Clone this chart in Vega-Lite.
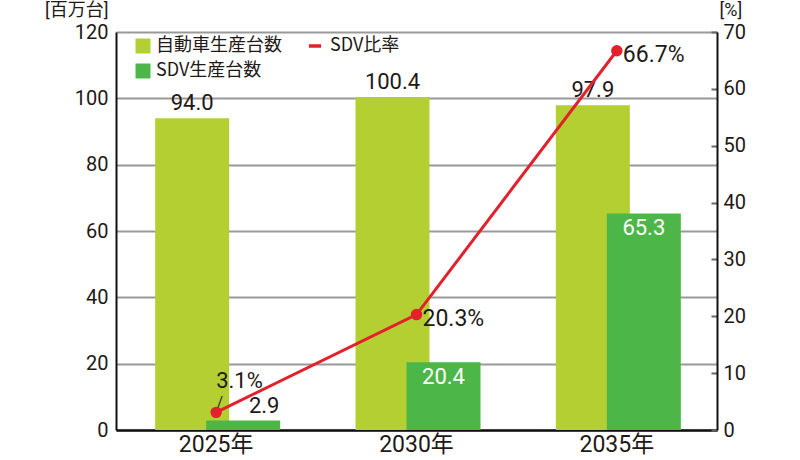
{
  "$schema": "https://vega.github.io/schema/vega-lite/v6.json",
  "width": 601,
  "height": 398,
  "autosize": {"type": "none"},
  "padding": {"left": 116, "top": 32, "right": 83, "bottom": 30},
  "background": "white",
  "config": {
    "font": "Roboto, Noto Sans CJK JP",
    "view": {"stroke": null},
    "text": {"font": "Roboto, Noto Sans CJK JP", "color": "#231815"}
  },
  "data": {
    "values": [
      {"year": "2025年", "total": 94.0, "sdv": 2.9, "ratio": 3.1, "ratio_label": "3.1%"},
      {"year": "2030年", "total": 100.4, "sdv": 20.4, "ratio": 20.3, "ratio_label": "20.3%"},
      {"year": "2035年", "total": 97.9, "sdv": 65.3, "ratio": 66.7, "ratio_label": "66.7%"}
    ]
  },
  "encoding": {
    "x": {
      "field": "year",
      "type": "nominal",
      "sort": null,
      "scale": {"paddingInner": 0, "paddingOuter": 0},
      "axis": {
        "title": null,
        "labelAngle": 0,
        "labelFontSize": 23,
        "labelColor": "#231815",
        "labelPadding": 3,
        "ticks": false,
        "domainColor": "#111",
        "domainWidth": 2.5
      }
    }
  },
  "layer": [
    {
      "encoding": {
        "y": {
          "type": "quantitative",
          "scale": {"domain": [0, 120]},
          "axis": {
            "orient": "left",
            "values": [0, 20, 40, 60, 80, 100, 120],
            "grid": true,
            "gridColor": "#999",
            "gridWidth": 2,
            "ticks": false,
            "labelPadding": 8,
            "labelFontSize": 20,
            "labelColor": "#231815",
            "domainColor": "#111",
            "domainWidth": 2,
            "title": "[百万台]",
            "titleAngle": 0,
            "titleAlign": "right",
            "titleBaseline": "middle",
            "titleX": -8,
            "titleY": -22,
            "titleFontSize": 18,
            "titleFontWeight": "normal",
            "titleColor": "#231815"
          }
        }
      },
      "layer": [
        {
          "mark": {"type": "bar", "width": 74, "xOffset": -24},
          "encoding": {
            "y": {"field": "total"},
            "fill": {
              "datum": "自動車生産台数",
              "type": "nominal",
              "scale": {"domain": ["自動車生産台数", "SDV生産台数"], "range": ["#b3cf32", "#4cb748"]},
              "legend": {
                "title": null,
                "orient": "none",
                "legendX": 18,
                "legendY": 5,
                "symbolType": "square",
                "symbolSize": 225,
                "symbolStrokeWidth": 0,
                "labelFontSize": 18,
                "labelColor": "#231815",
                "labelFont": "Noto Sans CJK JP",
                "rowPadding": 7,
                "labelOffset": 4
              }
            }
          }
        },
        {
          "mark": {"type": "bar", "width": 74, "xOffset": 27},
          "encoding": {
            "y": {"field": "sdv"},
            "fill": {"datum": "SDV生産台数", "type": "nominal"}
          }
        },
        {
          "mark": {"type": "text", "xOffset": -24, "dy": -3, "baseline": "bottom", "fontSize": 22},
          "encoding": {
            "y": {"field": "total"},
            "text": {"field": "total", "type": "quantitative", "format": ".1f"}
          }
        },
        {
          "transform": [{"filter": "datum.sdv < 10"}],
          "mark": {"type": "text", "xOffset": 48, "dy": -2, "baseline": "bottom", "fontSize": 22},
          "encoding": {
            "y": {"field": "sdv"},
            "text": {"field": "sdv", "type": "quantitative", "format": ".1f"}
          }
        },
        {
          "transform": [{"filter": "datum.sdv >= 10"}],
          "mark": {"type": "text", "xOffset": 27, "dy": 5, "baseline": "top", "fontSize": 22, "color": "white"},
          "encoding": {
            "y": {"field": "sdv"},
            "text": {"field": "sdv", "type": "quantitative", "format": ".1f"}
          }
        }
      ]
    },
    {
      "encoding": {
        "y": {
          "type": "quantitative",
          "scale": {"domain": [0, 70]},
          "axis": {
            "orient": "right",
            "values": [0, 10, 20, 30, 40, 50, 60, 70],
            "grid": false,
            "tickSize": -6,
            "tickColor": "#666",
            "tickWidth": 2,
            "labelPadding": 12,
            "labelFontSize": 20,
            "labelColor": "#231815",
            "domainColor": "#111",
            "domainWidth": 2,
            "title": "[%]",
            "titleAngle": 0,
            "titleAlign": "left",
            "titleBaseline": "middle",
            "titleX": 2,
            "titleY": -22,
            "titleFontSize": 18,
            "titleFontWeight": "normal",
            "titleColor": "#231815"
          }
        }
      },
      "layer": [
        {
          "mark": {"type": "line", "strokeWidth": 3, "point": {"filled": true, "size": 90, "color": "#e3212d"}},
          "encoding": {
            "y": {"field": "ratio"},
            "stroke": {
              "datum": "SDV比率",
              "type": "nominal",
              "scale": {"domain": ["SDV比率"], "range": ["#e3212d"]},
              "legend": {
                "title": null,
                "orient": "none",
                "legendX": 190,
                "legendY": 5,
                "symbolType": "stroke",
                "symbolSize": 150,
                "symbolStrokeWidth": 3.5,
                "labelFontSize": 18,
                "labelColor": "#231815",
                "labelFont": "Noto Sans CJK JP",
                "labelOffset": 6
              }
            }
          }
        },
        {
          "transform": [{"filter": "datum.year == '2025年'"}],
          "mark": {"type": "text", "align": "left", "dx": 0, "dy": -31, "fontSize": 22},
          "encoding": {
            "y": {"field": "ratio"},
            "text": {"field": "ratio_label"}
          }
        },
        {
          "transform": [{"filter": "datum.year == '2025年'"}],
          "mark": {"type": "text", "text": "/", "align": "center", "dx": 4, "dy": -9, "fontSize": 14},
          "encoding": {
            "y": {"field": "ratio"}
          }
        },
        {
          "transform": [{"filter": "datum.year != '2025年'"}],
          "mark": {"type": "text", "align": "left", "dx": 6, "dy": 4, "fontSize": 23},
          "encoding": {
            "y": {"field": "ratio"},
            "text": {"field": "ratio_label"}
          }
        }
      ]
    }
  ],
  "resolve": {"scale": {"y": "independent"}}
}
